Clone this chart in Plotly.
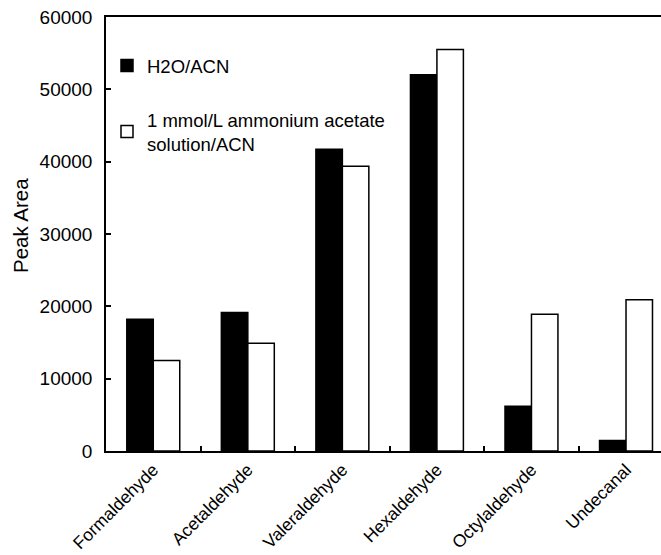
import plotly.graph_objects as go

categories = ["Formaldehyde", "Acetaldehyde", "Valeraldehyde", "Hexaldehyde", "Octylaldehyde", "Undecanal"]
h2o_acn = [18200, 19150, 41700, 52000, 6200, 1450]
ammonium = [12500, 14900, 39350, 55500, 18900, 20900]
series_names = ["H2O/ACN", "1 mmol/L ammonium acetate<br>solution/ACN"]
y_ticks = [0, 10000, 20000, 30000, 40000, 50000, 60000]
y_title = "Peak Area"

FONT = "Liberation Sans, Arial, sans-serif"

fig = go.Figure()
fig.add_trace(go.Bar(x=categories, y=h2o_acn, name=series_names[0], showlegend=True,
                     marker=dict(color="black", line=dict(color="black", width=1.5)),
                     legend="legend"))
fig.add_trace(go.Bar(x=categories, y=ammonium, name=series_names[1], showlegend=True,
                     marker=dict(color="white", line=dict(color="black", width=1.5)),
                     legend="legend2"))

legend_common = dict(bgcolor="rgba(0,0,0,0)", font=dict(family=FONT, size=18.5, color="black"),
                     xanchor="left", yanchor="middle", itemwidth=30, visible=True)

fig.update_layout(
    width=661, height=555,
    margin=dict(l=106, r=0, t=17, b=104),
    paper_bgcolor="white", plot_bgcolor="white",
    barmode="group", bargap=0.44, bargroupgap=0,
    showlegend=True,
    font=dict(family=FONT, color="black"),
    legend=dict(x=0.0018, y=1 - (66 - 17) / 434, **legend_common),
    legend2=dict(x=0.0018, y=1 - (132 - 17) / 434, **legend_common),
    xaxis=dict(
        range=[-0.5, 5.37], automargin=False,
        showline=True, linecolor="black", linewidth=1.5, mirror=True,
        ticks="inside", tickson="boundaries", ticklen=5, tickcolor="black", tickwidth=1.5,
        tickangle=-45, tickfont=dict(family=FONT, size=17.5, color="black"),
        showgrid=False,
    ),
    yaxis=dict(
        range=[0, 60000], tickvals=y_ticks, ticktext=[str(v) for v in y_ticks],
        automargin=False,
        showline=True, linecolor="black", linewidth=1.5,
        ticks="inside", ticklen=5, tickcolor="black", tickwidth=1.5,
        tickfont=dict(family=FONT, size=19, color="black"), ticklabelstandoff=8,
        showgrid=False, zeroline=False,
    ),
    annotations=[dict(
        text=y_title, textangle=-90, showarrow=False,
        xref="paper", yref="paper", x=(20 - 106) / 555, y=1 - (226 - 17) / 434,
        xanchor="center", yanchor="middle",
        font=dict(family=FONT, size=20.5, color="black"),
    )],
)

# remove the browser's default 8px body margin so the figure sits at the page corner
fig.write_html("out.html", config={"displayModeBar": False},
               post_script="document.body.style.margin='0px';")
